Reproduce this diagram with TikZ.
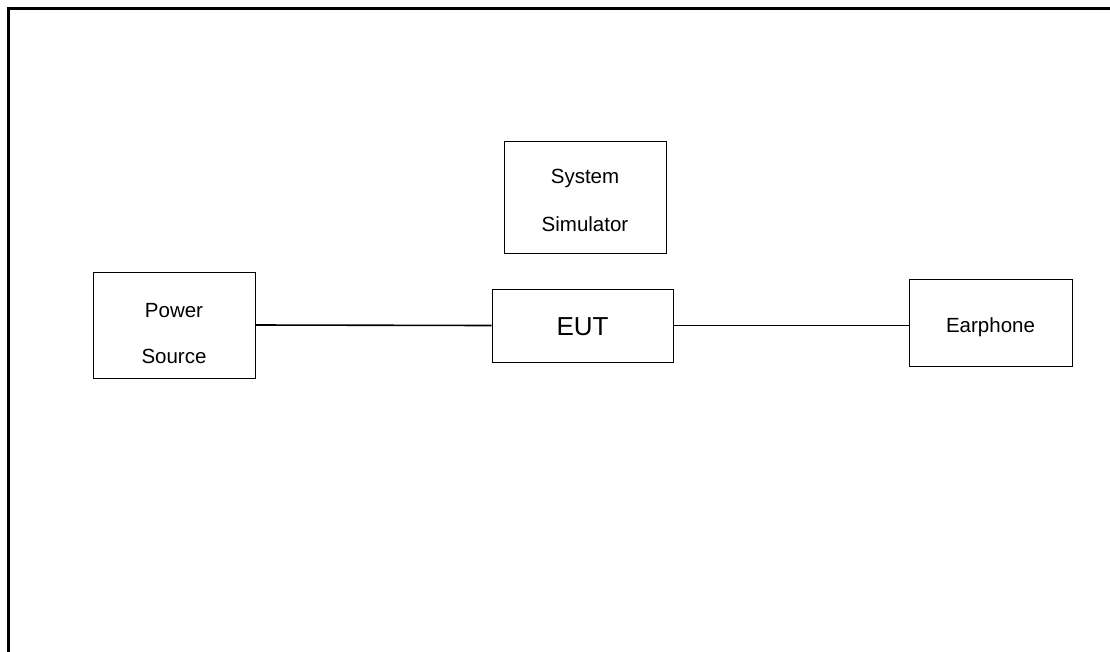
\documentclass[tikz,border=0pt]{standalone}
\usepackage{fontspec}
\setmainfont{Liberation Sans}
\begin{document}
\begin{tikzpicture}[x=1pt,y=-1pt,
  box/.style={draw=black, line width=1pt, inner sep=0pt},
  lbl/.style={font=\fontsize{20.5}{24}\selectfont, inner sep=0pt, anchor=base},
  big/.style={font=\fontsize{26}{30}\selectfont, inner sep=0pt, anchor=base},
  wire/.style={draw=black, line width=1.6pt},
  frame/.style={draw=black, line width=3pt}]
\useasboundingbox (0,0) rectangle (1110,651);
% frame
\coordinate (fc) at (8.5,8.5);
\coordinate (fr) at (1112,8.5);
\coordinate (fb) at (8.5,653);
\draw[frame] (fr) -- (fc) -- (fb);
% boxes
\node[box, minimum width=162pt, minimum height=106pt] (ps) at (174,325) {};
\node[box, minimum width=162pt, minimum height=112pt] (sim) at (585,197) {};
\node[box, minimum width=181pt, minimum height=73pt] (eut) at (582.5,325.5) {};
\node[box, minimum width=163pt, minimum height=87pt] (ear) at (990.5,322.5) {};
% labels
\node[lbl] (t1) at (174,317) {Power};
\node[lbl] (t2) at (174,363) {Source};
\node[lbl] (t3) at (585,183) {System};
\node[lbl] (t4) at (585,231) {Simulator};
\node[big] (t5) at (582.5,335) {EUT};
\node[lbl] (t6) at (990.5,332) {Earphone};
% connectors
\draw[wire] (ps.east) -- (eut.west);
\draw[wire] (eut.east) -- (eut.east -| ear.west);
\end{tikzpicture}
\end{document}
